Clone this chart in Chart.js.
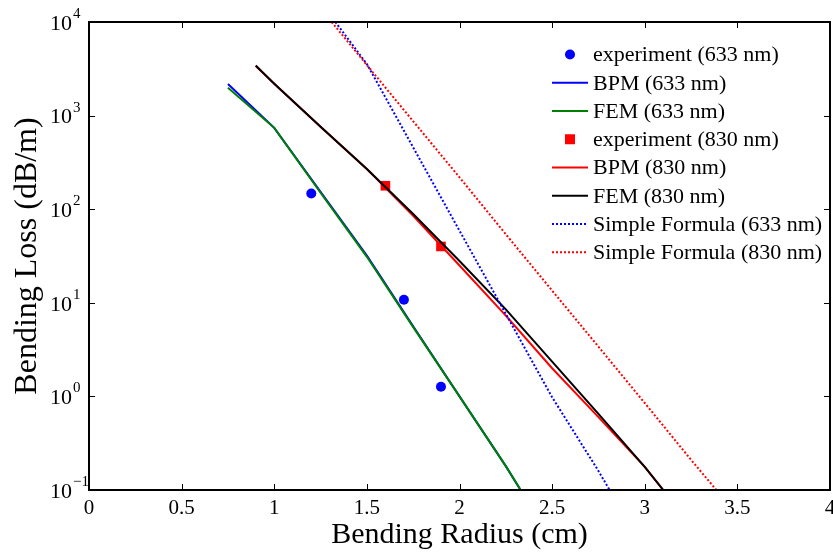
<!DOCTYPE html>
<html>
<head>
<meta charset="utf-8">
<script src="https://cdn.jsdelivr.net/npm/chart.js@4/dist/chart.umd.min.js"></script>
<style>
  html, body { margin: 0; padding: 0; background: #fff; overflow: hidden; }
  canvas { display: block; }
</style>
</head>
<body>
<canvas id="loss" width="833" height="554"></canvas>
<script>
// bending radius (cm) / bending loss (dB/m)
var exp633R = [1.2, 1.7, 1.9]
  , exp633L = [147, 10.8, 1.27]

  , sim633R = [0.75, 1.0, 1.25, 1.5, 1.75, 2.0, 2.25, 2.33]
  , bpm633L = [2180, 740, 153, 32, 5.6, 1.0, 0.18, 0.1]
  , fem633L = [1980, 740, 150, 31, 5.5, 1.0, 0.18, 0.1]

  , exp830R = [1.6, 1.9]
  , exp830L = [178, 40]

  , sim830R = [0.9, 1.0, 1.25, 1.5, 1.75, 2.0, 2.25, 2.5, 2.75, 3.0, 3.1]
  , bpm830L = [3390, 2190, 760, 269, 85, 25, 7.3, 2.0, 0.6, 0.177, 0.1]
  , fem830L = [3430, 2190, 760, 269, 89, 28, 8.5, 2.35, 0.65, 0.177, 0.1]

  , sf633R = [1.33, 1.5, 1.75, 2.0, 2.25, 2.5, 2.75, 2.81]
  , sf633L = [10000, 3550, 457, 59, 7.6, 0.98, 0.16, 0.1]

  , sf830R = [1.31, 1.5, 1.75, 2.0, 2.25, 2.5, 2.75, 3.0, 3.25, 3.4]
  , sf830L = [10000, 3470, 870, 219, 54, 13.5, 3.4, 0.85, 0.21, 0.093]

  , xTicks = [0, 0.5, 1, 1.5, 2, 2.5, 3, 3.5, 4]
  , xTickLabels = ["0", "0.5", "1", "1.5", "2", "2.5", "3", "3.5", "4"]
  , yTicks = [0.1, 1, 10, 100, 1000, 10000]
  , yTickExp = ["-1", "0", "1", "2", "3", "4"];

var color = {
	blue: "#0000ff"
  , green: "#008000"
  , red: "#ff0000"
  , black: "#000000"
}

var serif = "'Liberation Serif', 'Times New Roman', serif";

function pts(xs, ys) {
	return xs.map(function (x, i) { return { x: x, y: ys[i] }; });
}

function lineSet(label, xs, ys, c, dash) {
	return {
		label: label,
		data: pts(xs, ys),
		showLine: true,
		borderColor: c,
		backgroundColor: c,
		borderWidth: 2,
		borderDash: dash || [],
		pointRadius: 0,
		tension: 0,
		fill: false
	};
}

function markSet(label, xs, ys, c, style, r) {
	return {
		label: label,
		data: pts(xs, ys),
		showLine: false,
		pointStyle: style,
		pointRadius: r,
		backgroundColor: c,
		borderColor: c,
		borderWidth: 0
	};
}

var datasets = [
	markSet("experiment (633 nm)", exp633R, exp633L, color.blue, "circle", 5),
	lineSet("BPM (633 nm)", sim633R, bpm633L, color.blue),
	lineSet("FEM (633 nm)", sim633R, fem633L, color.green),
	markSet("experiment (830 nm)", exp830R, exp830L, color.red, "rect", 6.8),
	lineSet("BPM (830 nm)", sim830R, bpm830L, color.red),
	lineSet("FEM (830 nm)", sim830R, fem830L, color.black),
	lineSet("Simple Formula (633 nm)", sf633R, sf633L, color.blue, [2, 2]),
	lineSet("Simple Formula (830 nm)", sf830R, sf830L, color.red, [2, 2])
];
// later series drawn on top, like the original plot order
datasets.forEach(function (d, i) { d.order = -i; });

// box, inward ticks, tick labels and legend inside the plot
var frame = {
	id: "frame",
	afterDatasetsDraw: function (chart) {
		var ctx = chart.ctx
		  , a = chart.chartArea
		  , xs = chart.scales.x
		  , ys = chart.scales.y
		  , t = 6;

		ctx.save();
		ctx.strokeStyle = "#000";
		ctx.lineWidth = 1;
		ctx.beginPath();
		xTicks.forEach(function (v) {
			var px = Math.round(xs.getPixelForValue(v)) + 0.5;
			ctx.moveTo(px, a.bottom); ctx.lineTo(px, a.bottom - t);
			ctx.moveTo(px, a.top); ctx.lineTo(px, a.top + t);
		});
		yTicks.forEach(function (v) {
			var py = Math.round(ys.getPixelForValue(v)) + 0.5;
			ctx.moveTo(a.left, py); ctx.lineTo(a.left + t, py);
			ctx.moveTo(a.right, py); ctx.lineTo(a.right - t, py);
		});
		ctx.stroke();

		ctx.lineWidth = 2;
		ctx.strokeRect(a.left, a.top, a.right - a.left, a.bottom - a.top);

		ctx.fillStyle = "#000";
		ctx.textBaseline = "middle";

		// x tick labels
		ctx.font = "21px " + serif;
		ctx.textAlign = "center";
		xTicks.forEach(function (v, i) {
			ctx.fillText(xTickLabels[i], xs.getPixelForValue(v), a.bottom + 18);
		});

		// y tick labels as 10 with raised exponent
		yTicks.forEach(function (v, i) {
			var py = ys.getPixelForValue(v);
			ctx.font = "22px " + serif;
			ctx.textAlign = "right";
			ctx.fillText("10", a.left - 17, py + 2);
			ctx.font = "15px " + serif;
			ctx.textAlign = "left";
			ctx.fillText(yTickExp[i].replace("-", "\u2212"), a.left - 16, py - 8);
		});

		// legend
		var tx = a.right - 237
		  , x0 = a.right - 278
		  , x1 = a.right - 242
		  , mx = a.right - 260
		  , y0 = a.top + 32.5
		  , step = 28.25;
		ctx.font = "22px " + serif;
		ctx.textAlign = "left";
		chart.data.datasets.forEach(function (d, i) {
			var y = y0 + i * step;
			if (d.showLine) {
				ctx.strokeStyle = d.borderColor;
				ctx.lineWidth = d.borderWidth;
				ctx.setLineDash(d.borderDash);
				ctx.beginPath();
				ctx.moveTo(x0, y); ctx.lineTo(x1, y);
				ctx.stroke();
				ctx.setLineDash([]);
			} else {
				ctx.fillStyle = d.backgroundColor;
				ctx.beginPath();
				if (d.pointStyle === "rect") {
					ctx.rect(mx - 5, y - 5, 10, 10);
				} else {
					ctx.arc(mx, y, 5, 0, Math.PI * 2);
				}
				ctx.fill();
			}
			ctx.fillStyle = "#000";
			ctx.fillText(d.label, tx, y + 1);
		});
		ctx.restore();
	}
};

var options = {
	responsive: false,
	animation: false,
	events: [],
	devicePixelRatio: 1,
	layout: {
		autoPadding: false,
		padding: { top: 22, right: 3, left: 0, bottom: 0 }
	},
	plugins: {
		legend: { display: false },
		tooltip: { enabled: false }
	},
	scales: {
		x: {
			type: "linear",
			min: 0,
			max: 4,
			grid: { display: false, drawTicks: false },
			border: { display: false },
			afterBuildTicks: function (s) {
				s.ticks = xTicks.map(function (v) { return { value: v }; });
			},
			afterFit: function (s) {
				s.height = 64;
				s.paddingLeft = 0;
				s.paddingRight = 0;
			},
			ticks: { display: false },
			title: {
				display: true,
				text: "Bending Radius (cm)",
				color: "#000",
				font: { family: serif, size: 30 },
				padding: { top: 0, bottom: 1 }
			}
		},
		y: {
			type: "logarithmic",
			min: 0.1,
			max: 10000,
			grid: { display: false, drawTicks: false },
			border: { display: false },
			afterBuildTicks: function (s) {
				s.ticks = yTicks.map(function (v) { return { value: v }; });
			},
			afterFit: function (s) {
				s.width = 89;
				s.paddingTop = 0;
				s.paddingBottom = 0;
			},
			ticks: { display: false },
			title: {
				display: true,
				text: "Bending Loss (dB/m)",
				color: "#000",
				font: { family: serif, size: 32 },
				padding: { top: 8, bottom: 0 }
			}
		}
	}
};

var ctx = document.getElementById("loss").getContext("2d");
new Chart(ctx, {
	type: "scatter",
	data: { datasets: datasets },
	options: options,
	plugins: [frame]
});
</script>
</body>
</html>
